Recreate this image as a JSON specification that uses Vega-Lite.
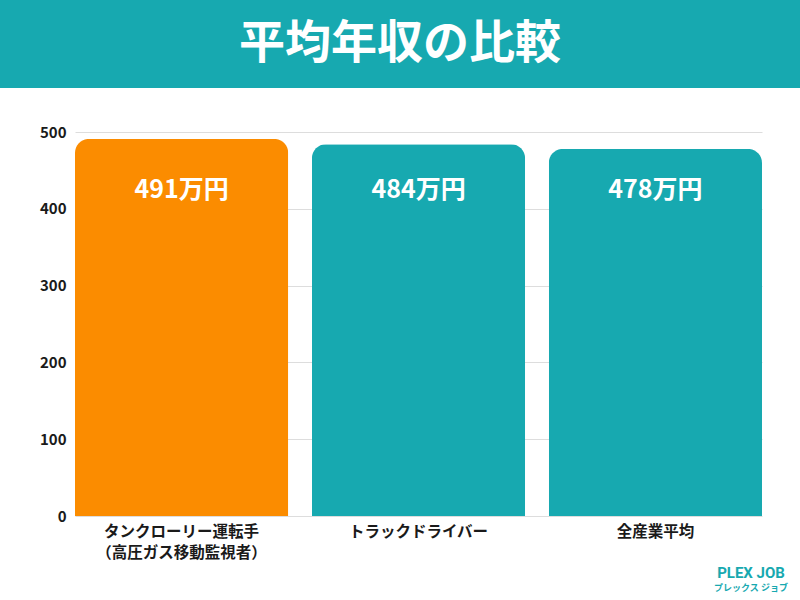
{
  "$schema": "https://vega.github.io/schema/vega-lite/v6.json",
  "padding": 0,
  "background": "white",
  "spacing": 44,
  "bounds": "flush",
  "config": {"view": {"stroke": null}, "font": "Noto Sans CJK JP"},
  "vconcat": [
    {
      "width": 800,
      "height": 88,
      "view": {"fill": "#17A9B0", "stroke": null},
      "data": {"values": [{"title": "平均年収の比較"}]},
      "mark": {"type": "text", "color": "white", "fontSize": 46, "fontWeight": "bold", "font": "Noto Sans CJK JP", "baseline": "middle", "align": "center"},
      "encoding": {"text": {"field": "title"}}
    },
    {
      "width": 800,
      "height": 384,
      "title": {
        "text": "PLEX JOB",
        "subtitle": "プレックス ジョブ",
        "orient": "bottom",
        "anchor": "end",
        "align": "center",
        "dx": -49,
        "offset": 5,
        "color": "#17A9B0",
        "subtitleColor": "#17A9B0",
        "font": "Roboto",
        "fontSize": 15,
        "fontWeight": "bold",
        "subtitleFont": "Noto Sans CJK JP",
        "subtitleFontSize": 9,
        "subtitleFontWeight": "bold",
        "subtitlePadding": 3
      },
      "data": {"values": [
        {"職種": "タンクローリー運転手\n（高圧ガス移動監視者）", "年収": 491, "表示": "491万円"},
        {"職種": "トラックドライバー", "年収": 484, "表示": "484万円"},
        {"職種": "全産業平均", "年収": 478, "表示": "478万円"}
      ]},
      "encoding": {
        "x": {
          "field": "職種",
          "type": "nominal",
          "sort": null,
          "scale": {"range": [75, 762], "paddingInner": 0.1, "paddingOuter": 0},
          "axis": {
            "title": null,
            "domain": false,
            "ticks": false,
            "grid": false,
            "labelAngle": 0,
            "labelPadding": 8,
            "labelFontSize": 15.5,
            "labelFontWeight": "bold",
            "labelColor": "#1a1a1a",
            "labelLineHeight": 21,
            "labelBaseline": "top",
            "labelExpr": "split(datum.label, '\\n')"
          }
        }
      },
      "layer": [
        {
          "mark": {"type": "bar", "cornerRadiusTopLeft": 14, "cornerRadiusTopRight": 14},
          "encoding": {
            "y": {
              "field": "年収",
              "type": "quantitative",
              "scale": {"domain": [0, 500]},
              "axis": {
                "title": null,
                "values": [0, 100, 200, 300, 400, 500],
                "domain": false,
                "ticks": false,
                "labelPadding": -66,
                "labelAlign": "right",
                "labelFontSize": 15,
                "labelFontWeight": "bold",
                "labelColor": "#1a1a1a",
                "gridColor": "#dddddd",
                "gridWidth": 1
              }
            },
            "color": {
              "field": "職種",
              "type": "nominal",
              "sort": null,
              "scale": {"range": ["#FB8C00", "#17A9B0", "#17A9B0"]},
              "legend": null
            }
          }
        },
        {
          "mark": {"type": "text", "color": "white", "fontSize": 25, "fontWeight": "bold", "baseline": "middle", "align": "center"},
          "encoding": {
            "y": {"datum": 425, "type": "quantitative"},
            "text": {"field": "表示"}
          }
        }
      ]
    }
  ]
}
